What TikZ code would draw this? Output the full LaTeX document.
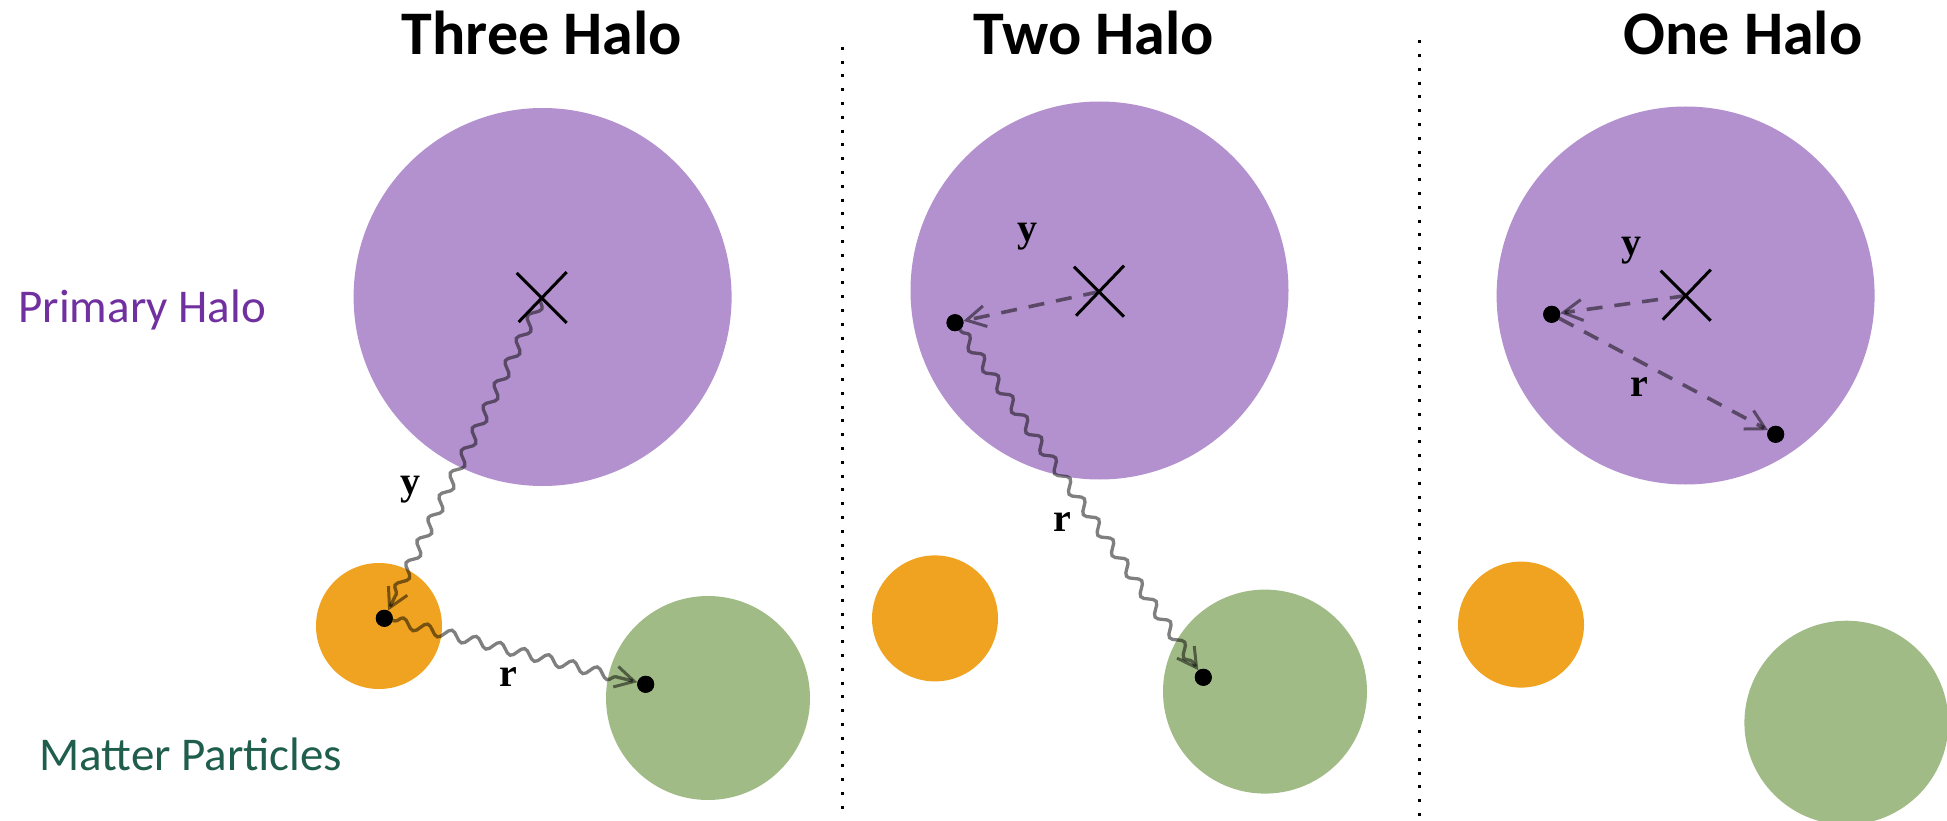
\documentclass[tikz,border=0pt]{standalone}
\usepackage{fontspec}
\setmainfont{Carlito}
\newfontfamily\labfont{Liberation Serif}
\usetikzlibrary{arrows.meta,decorations.pathmorphing}
\definecolor{halo}{RGB}{179,145,206}
\definecolor{orangep}{RGB}{240,163,32}
\definecolor{greenp}{RGB}{161,187,135}
\definecolor{halotext}{RGB}{112,48,160}
\definecolor{mattertext}{RGB}{31,94,76}
\tikzset{
  halobox/.style={circle,fill=halo,inner sep=0pt,minimum size=378pt},
  smallp/.style={circle,fill=orangep,inner sep=0pt,minimum size=126pt},
  bigp/.style={circle,fill=greenp,inner sep=0pt,minimum size=204pt},
  dotp/.style={circle,fill=black,inner sep=0pt,minimum size=17pt},
  crossline/.style={line width=3pt,black},
  barb/.style={-{Straight Barb[length=19pt,width=21pt,line width=3pt]}},
  wavy/.style={barb,draw=black,draw opacity=0.5,line width=3.3pt,decorate,
    decoration={snake,amplitude=5pt,segment length=25pt,pre length=2pt,post length=10pt}},
  dashy/.style={barb,draw=black,draw opacity=0.5,line width=3.6pt,dash pattern=on 16pt off 12pt},
  dotline/.style={line width=3pt,dash pattern=on 3pt off 10.8pt,black},
  title/.style={font=\bfseries\fontsize{62}{70}\selectfont,anchor=base},
  sidelab/.style={font=\fontsize{47}{54}\selectfont,anchor=base west},
  vec/.style={font=\labfont\bfseries\fontsize{40}{44}\selectfont,inner sep=0pt}
}
\begin{document}
\begin{tikzpicture}[x=1pt,y=-1pt]
\useasboundingbox (0,0) rectangle (1947,821);
% circles
\node[halobox] (h1) at (542.6,297) {};
\node[halobox] (h2) at (1099.5,290.5) {};
\node[halobox] (h3) at (1685.6,295.5) {};
\node[smallp] (o1) at (379,626) {};
\node[smallp] (o2) at (935,618.4) {};
\node[smallp] (o3) at (1521,624.6) {};
\node[bigp] (g1) at (708,698) {};
\node[bigp] (g2) at (1265,691.6) {};
\node[bigp] (g3) at (1846.4,722.7) {};
% centres (crosses)
\coordinate (x1) at (541.7,298);
\coordinate (x2) at (1099,291.7);
\coordinate (x3) at (1685.7,295.7);
\foreach \c in {x1,x2,x3}{
  \draw[crossline] (\c) +(-25,-25) -- +(25,25);
  \draw[crossline] (\c) +(25,-26) -- +(-23,24);
}
% particles
\node[dotp] (p1a) at (384.3,618.3) {};
\node[dotp] (p1b) at (645.7,684.3) {};
\node[dotp] (p2a) at (955,322.7) {};
\node[dotp] (p2b) at (1203.3,677.3) {};
\node[dotp] (p3a) at (1551.7,314.3) {};
\node[dotp] (p3b) at (1775.7,434.3) {};
% connectors
\draw[wavy] (x1) -- (p1a);
\draw[wavy] (p1a) -- (p1b);
\draw[dashy] (x2) -- (p2a);
\draw[wavy] (p2a) -- (p2b);
\draw[dashy] (x3) -- (p3a);
\draw[dashy] (p3a) -- (p3b);
% redraw dots on top
\foreach \p in {p1a,p1b,p2a,p2b,p3a,p3b}{\fill (\p) circle (8.5pt);}
% labels
\node[vec] (y1) at (410,490) {y};
\node[vec] (r1) at (508,677) {r};
\node[vec] (y2) at (1027,237) {y};
\node[vec] (r2) at (1062,522) {r};
\node[vec] (y3) at (1631,251) {y};
\node[vec] (r3) at (1639,387) {r};
% titles
\node[title] (t1) at (542,55) {Three Halo};
\node[title] (t2) at (1094,55) {Two Halo};
\node[title] (t3) at (1743,55) {One Halo};
\node[sidelab,text=halotext] (lh) at (15,322) {Primary Halo};
\node[sidelab,text=mattertext] (lm) at (36,770) {Matter Particles};
% separators
\coordinate (s1t) at (842.3,46.8);
\coordinate (s1b) at (842.3,815);
\coordinate (s2t) at (1419,40.2);
\coordinate (s2b) at (1419,821);
\draw[dotline] (s1t) -- (s1b);
\draw[dotline] (s2t) -- (s2b);
\end{tikzpicture}
\end{document}
